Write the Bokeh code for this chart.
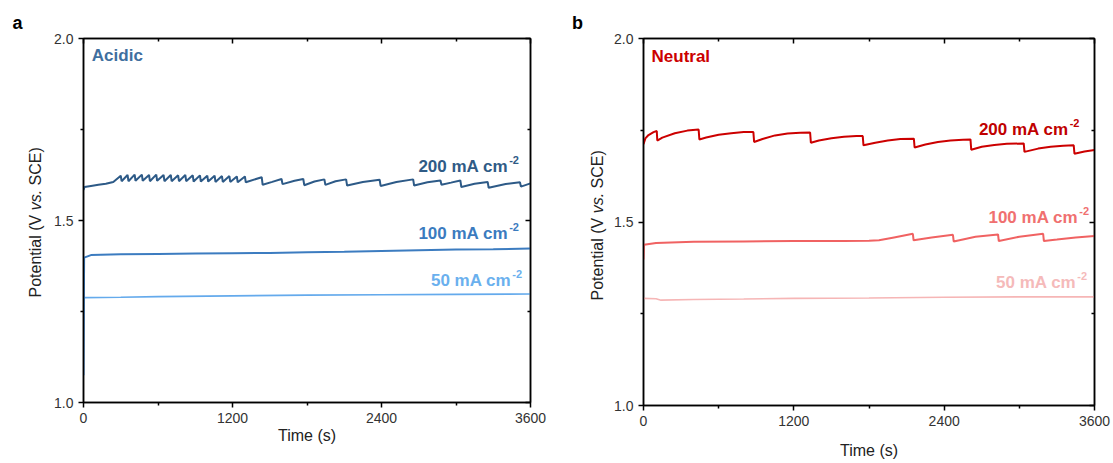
from bokeh.plotting import figure
from bokeh.models import Label, LinearAxis, FixedTicker, Range1d, CustomJSTickFormatter
from bokeh.layouts import row
from bokeh.embed import file_html
from bokeh.resources import INLINE

# ---------------- data ----------------
x_ticks = [0, 1200, 2400, 3600]
x_minor = [600, 1800, 3000]
y_ticks = [1.0, 1.5, 2.0]
y_minor = [1.25, 1.75]

# Acidic
acid_200_t = [0, 8, 60, 120, 180, 240, 300, 307, 355, 362, 412, 419, 470, 477, 528, 535, 586, 593,
              645, 652, 703, 710, 762, 769, 820, 827, 880, 887, 938, 945, 997, 1004, 1056, 1063,
              1115, 1122, 1175, 1182, 1235, 1242, 1300, 1307, 1435, 1443, 1520, 1595, 1603, 1700,
              1770, 1778, 1860, 1940, 1948, 2030, 2115, 2123, 2250, 2385, 2393, 2520, 2655, 2663,
              2770, 2875, 2883, 2960, 3035, 3043, 3150, 3255, 3263, 3400, 3515, 3523, 3600]
acid_200_v = [1.584, 1.592, 1.595, 1.598, 1.601, 1.606, 1.623, 1.608, 1.625, 1.608, 1.626, 1.609,
              1.626, 1.609, 1.625, 1.608, 1.626, 1.609, 1.625, 1.608, 1.625, 1.608, 1.624, 1.608,
              1.625, 1.608, 1.624, 1.607, 1.624, 1.607, 1.623, 1.607, 1.623, 1.606, 1.622, 1.606,
              1.622, 1.606, 1.621, 1.605, 1.621, 1.605, 1.619, 1.598, 1.606, 1.614, 1.600, 1.609,
              1.614, 1.597, 1.607, 1.613, 1.598, 1.608, 1.613, 1.596, 1.606, 1.612, 1.595, 1.606,
              1.613, 1.596, 1.605, 1.610, 1.598, 1.604, 1.610, 1.592, 1.601, 1.606, 1.590, 1.600,
              1.605, 1.593, 1.602]
acid_100_t = [0, 5, 60, 300, 600, 900, 1200, 1500, 1800, 2100, 2400, 2700, 3000, 3300, 3600]
acid_100_v = [1.075, 1.398, 1.405, 1.407, 1.408, 1.409, 1.410, 1.411, 1.413, 1.414, 1.416, 1.418,
              1.420, 1.421, 1.423]
acid_50_t = [0, 300, 600, 1200, 1800, 2400, 3000, 3600]
acid_50_v = [1.288, 1.289, 1.291, 1.293, 1.295, 1.296, 1.297, 1.298]

# Neutral
neu_200_t = [0, 15, 40, 80, 106, 110, 150, 250, 350, 440, 446, 500, 600, 700, 800, 877, 883, 950,
             1050, 1150, 1250, 1330, 1336, 1400, 1500, 1600, 1700, 1750, 1756, 1850, 1950, 2050,
             2158, 2164, 2250, 2350, 2450, 2550, 2610, 2616, 2700, 2800, 2900, 3035, 3041, 3150,
             3250, 3350, 3434, 3440, 3520, 3600]
neu_200_v = [1.712, 1.728, 1.737, 1.745, 1.748, 1.722, 1.730, 1.742, 1.749, 1.752, 1.725, 1.730,
             1.738, 1.742, 1.745, 1.745, 1.718, 1.726, 1.736, 1.741, 1.743, 1.744, 1.716, 1.722,
             1.728, 1.732, 1.734, 1.734, 1.709, 1.716, 1.722, 1.726, 1.727, 1.703, 1.711, 1.718,
             1.722, 1.724, 1.725, 1.697, 1.705, 1.710, 1.713, 1.714, 1.691, 1.700, 1.705, 1.708,
             1.709, 1.686, 1.692, 1.696]
neu_100_t = [0, 4, 100, 400, 800, 1200, 1600, 1800, 1880, 2000, 2150, 2156, 2300, 2470, 2476, 2650,
             2830, 2836, 3000, 3190, 3196, 3300, 3450, 3600]
neu_100_v = [1.398, 1.438, 1.443, 1.446, 1.447, 1.448, 1.448, 1.449, 1.450, 1.458, 1.468, 1.450,
             1.458, 1.465, 1.447, 1.460, 1.466, 1.448, 1.460, 1.468, 1.448, 1.452, 1.458, 1.462]
neu_50_t = [0, 100, 140, 400, 800, 1200, 1800, 2400, 3000, 3600]
neu_50_v = [1.292, 1.291, 1.287, 1.289, 1.290, 1.292, 1.293, 1.295, 1.296, 1.296]

FONT = "Liberation Sans"
H = 463


def make_panel(width, bl, br, bt, bb, axis_label_standoff):
    p = figure(width=width, height=H, x_range=Range1d(0, 3600), y_range=Range1d(1.0, 2.0),
               output_backend="svg", toolbar_location=None, frame_align=False,
               min_border_left=bl, min_border_right=br, min_border_top=bt, min_border_bottom=bb)
    p.xgrid.visible = False
    p.ygrid.visible = False
    p.outline_line_color = "black"
    p.outline_line_width = 1.5
    p.background_fill_color = "white"
    p.border_fill_color = "white"

    xt = FixedTicker(ticks=x_ticks, minor_ticks=x_minor)
    yt = FixedTicker(ticks=y_ticks, minor_ticks=y_minor)
    xf = CustomJSTickFormatter(code="return tick.toFixed(0);")
    yf = CustomJSTickFormatter(code="return tick.toFixed(1);")

    for ax, tk, fm in ((p.xaxis[0], xt, xf), (p.yaxis[0], yt, yf)):
        ax.ticker = tk
        ax.formatter = fm
        ax.axis_line_color = "black"
        ax.axis_line_width = 1.5
        ax.major_tick_line_width = 1.5
        ax.minor_tick_line_width = 1.5
        ax.major_tick_in = 0
        ax.major_tick_out = 5
        ax.minor_tick_in = 0
        ax.minor_tick_out = 3
        ax.major_label_text_font = FONT
        ax.major_label_text_font_size = "14px"
        ax.major_label_text_color = "#333333"

    p.xaxis[0].axis_label = "Time (s)"
    p.xaxis[0].axis_label_text_font = FONT
    p.xaxis[0].axis_label_text_font_size = "16px"
    p.xaxis[0].axis_label_text_font_style = "normal"
    p.xaxis[0].axis_label_text_color = "#222222"
    p.xaxis[0].axis_label_standoff = axis_label_standoff

    for loc, tk in (("above", xt), ("right", yt)):
        ax = LinearAxis(ticker=tk, major_label_text_color=None, major_label_text_font_size="1px",
                        axis_line_color="black", axis_line_width=1.5,
                        major_tick_in=5, major_tick_out=0, minor_tick_in=3, minor_tick_out=0,
                        major_tick_line_width=1.5, minor_tick_line_width=1.5)
        p.add_layout(ax, loc)
    return p


def side_panel(width, label_x, label_bottom_from_top, letter_x, letter):
    # narrow blank figure holding the panel letter and the y-axis title
    s = figure(width=width, height=H, x_range=Range1d(0, 1), y_range=Range1d(0, 1),
               output_backend="svg", toolbar_location=None, x_axis_type=None, y_axis_type=None,
               frame_align=False,
               min_border_left=0, min_border_right=0, min_border_top=0, min_border_bottom=0)
    s.outline_line_color = None
    s.xgrid.visible = False
    s.ygrid.visible = False
    s.background_fill_color = "white"
    s.border_fill_color = "white"
    y0 = H - label_bottom_from_top
    parts = [("Potential (V", "normal", y0), ("vs.", "italic", y0 + 87.2),
             ("SCE)", "normal", y0 + 112.0)]
    for txt, style, yy in parts:
        s.add_layout(Label(x=label_x, y=yy, x_units="screen", y_units="screen", text=txt,
                           angle=1.5707963, text_align="left", text_baseline="middle",
                           text_font=FONT, text_font_size="16px", text_font_style=style,
                           text_color="#222222"))
    s.add_layout(Label(x=letter_x, y=H - 22, x_units="screen", y_units="screen", text=letter,
                       text_align="center", text_baseline="middle", text_font=FONT,
                       text_font_size="18px", text_font_style="bold", text_color="black"))
    return s


def cur_label(p, x, y, color, num, ppv):
    p.add_layout(Label(x=x, y=y, text=num + " mA cm", text_align="right", text_baseline="middle",
                       text_font=FONT, text_font_size="17px", text_font_style="bold",
                       text_color=color))
    p.add_layout(Label(x=x + 8, y=y + 6.5 / ppv, text="-2", text_align="left",
                       text_baseline="middle", text_font=FONT, text_font_size="11px",
                       text_font_style="bold", text_color=color))


# ---------------- panel a ----------------
sa = side_panel(45, 35, 297, 17, "a")
pa = make_panel(512, 38, 27, 38, 61, 1)
ppv_a = 363.4
pa.line(acid_50_t, acid_50_v, line_color="#64aaec", line_width=1.6)
pa.line(acid_100_t, acid_100_v, line_color="#3c7cc0", line_width=2)
pa.line(acid_200_t, acid_200_v, line_color="#2d5a87", line_width=2)
pa.add_layout(Label(x=67, y=1.954, text="Acidic", text_align="left", text_baseline="middle",
                    text_font=FONT, text_font_size="17px", text_font_style="bold",
                    text_color="#3f6f9f"))
cur_label(pa, 3420, 1.649, "#2f5b86", "200", ppv_a)
cur_label(pa, 3420, 1.464, "#3b7bbf", "100", ppv_a)
cur_label(pa, 3445, 1.335, "#6ab0ee", "50", ppv_a)

# ---------------- panel b ----------------
sb = side_panel(50, 40, 300, 20, "b")
pb = make_panel(506, 36, 19, 38, 58, 13)
ppv_b = 366.7
pb.line(neu_50_t, neu_50_v, line_color="#f6b6b6", line_width=1.6)
pb.line(neu_100_t, neu_100_v, line_color="#f06262", line_width=2)
pb.line(neu_200_t, neu_200_v, line_color="#cc0000", line_width=2)
pb.add_layout(Label(x=64, y=1.95, text="Neutral", text_align="left", text_baseline="middle",
                    text_font=FONT, text_font_size="17px", text_font_style="bold",
                    text_color="#cc0000"))
cur_label(pb, 3394, 1.752, "#c00000", "200", ppv_b)
cur_label(pb, 3470, 1.513, "#f07070", "100", ppv_b)
cur_label(pb, 3455, 1.336, "#f5baba", "50", ppv_b)

layout = row(sa, pa, sb, pb)
open("out.html", "w").write(file_html(layout, INLINE))
